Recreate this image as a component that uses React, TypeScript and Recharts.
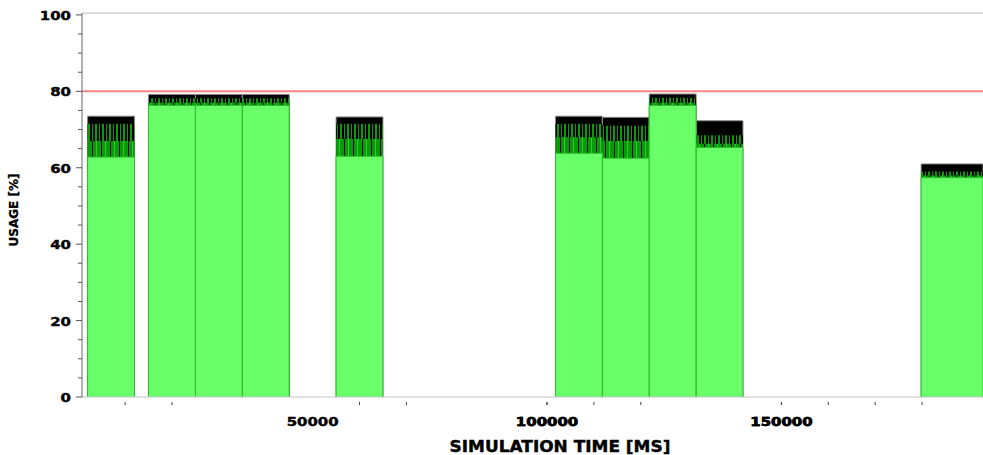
import React from "react";
import {
  ComposedChart,
  Area,
  XAxis,
  YAxis,
  ReferenceLine,
} from "recharts";

// each block is one simulation phase, times in ms
const BLOCK_START = [2000, 15000, 25000, 35000, 55000, 101800, 111800, 121800, 131800, 179800];
const BLOCK_END = [12000, 25000, 35000, 45000, 65000, 111800, 121800, 131800, 141800, 193000];

// usage [%]: peak tips, black band, dark green band, solid fill
const USAGE_PEAK = [73.5, 79.2, 79.2, 79.2, 73.3, 73.5, 73.2, 79.3, 72.3, 61.0];
const USAGE_MIX = [71.5, 78.2, 78.2, 78.2, 71.5, 71.5, 71.0, 78.3, 68.5, 59.0];
const USAGE_DARK = [67.0, 77.0, 77.0, 77.0, 67.5, 68.0, 67.0, 77.0, 66.3, 58.0];
const USAGE_BASE = [62.8, 76.3, 76.3, 76.3, 63.0, 63.8, 62.5, 76.3, 65.3, 57.4];

const LIMIT = 80;

const Y_TICKS = [0, 5, 10, 15, 20, 25, 30, 35, 40, 45, 50, 55, 60, 65, 70, 75, 80, 85, 90, 95, 100];
const Y_LABELS = [0, 20, 40, 60, 80, 100];

const X_TICK_MARKS = [10000, 20000, 60000, 70000, 100000, 110000, 120000, 150000, 160000, 170000, 180000];
const X_TICK_LABELS = [50000, 100000, 150000];

const X_DOMAIN: [number, number] = [800, 193000];
const Y_MAX = 100.5;

type Row = {
  t: number;
  peak: number | null;
  mix: number | null;
  dark: number | null;
  base: number | null;
};

function buildRows(): Row[] {
  const rows: Row[] = [];
  BLOCK_START.forEach((s, i) => {
    const e = BLOCK_END[i];
    const zero = { peak: 0, mix: 0, dark: 0, base: 0 };
    const top = {
      peak: USAGE_PEAK[i],
      mix: USAGE_MIX[i],
      dark: USAGE_DARK[i],
      base: USAGE_BASE[i],
    };
    rows.push({ t: s, ...zero }, { t: s, ...top }, { t: e, ...top }, { t: e, ...zero });
    // break the areas where there is no data
    const next = BLOCK_START[i + 1];
    if (next !== undefined && next > e) {
      rows.push({ t: e, peak: null, mix: null, dark: null, base: null });
    }
  });
  return rows;
}

const FONT = "'DejaVu Sans', sans-serif";

// eslint-disable-next-line @typescript-eslint/no-explicit-any
function YTick({ x, y, payload }: any) {
  const v = payload.value as number;
  const major = Y_LABELS.includes(v);
  return (
    <g>
      <line x1={x - (major ? 6 : 4)} x2={x} y1={y} y2={y} stroke="#555" />
      {major && (
        <text
          transform={`translate(${x - 11},${y + 5}) scale(1.3,1)`}
          textAnchor="end"
          fontFamily={FONT}
          fontWeight="bold"
          fontSize={11.5}
          fill="#000"
          stroke="#000"
          strokeWidth={0.4}
        >
          {v}
        </text>
      )}
    </g>
  );
}

// eslint-disable-next-line @typescript-eslint/no-explicit-any
function XTick({ x, y, payload }: any) {
  const v = payload.value as number;
  return (
    <g>
      {X_TICK_MARKS.includes(v) && (
        <line x1={x} x2={x} y1={y + 5} y2={y + 8} stroke="#444" />
      )}
      {X_TICK_LABELS.includes(v) && (
        <text
          transform={`translate(${x},${y + 29}) scale(1.3,1)`}
          textAnchor="middle"
          fontFamily={FONT}
          fontWeight="bold"
          fontSize={11.5}
          fill="#000"
          stroke="#000"
          strokeWidth={0.4}
        >
          {v}
        </text>
      )}
    </g>
  );
}

export default function App() {
  const data = buildRows();
  const xTicks = [...X_TICK_MARKS, ...X_TICK_LABELS].sort((a, b) => a - b);

  return (
    <div style={{ position: "absolute", left: 0, top: 0, width: 983, height: 455, background: "#fff" }}>
      <ComposedChart
        width={983}
        height={455}
        data={data}
        margin={{ top: 13, right: 0, bottom: 0, left: 0 }}
      >
        <defs>
          <pattern id="mixBand" width="7" height="4" patternUnits="userSpaceOnUse">
            <rect width="7" height="4" fill="#000" />
            <rect x="1" width="1" height="4" fill="#0a9a0a" />
            <rect x="4" width="2" height="4" fill="#0a9a0a" />
          </pattern>
          <pattern id="darkBand" width="9" height="4" patternUnits="userSpaceOnUse">
            <rect width="9" height="4" fill="#079c07" />
            <rect x="2" width="1" height="4" fill="#000" />
            <rect x="6" width="1" height="4" fill="#33c733" />
          </pattern>
        </defs>
        <XAxis
          dataKey="t"
          type="number"
          domain={X_DOMAIN}
          allowDataOverflow
          ticks={xTicks}
          interval={0}
          tick={<XTick />}
          tickLine={false}
          tickSize={0}
          tickMargin={0}
          axisLine={{ stroke: "#c4c4c4" }}
          height={58}
        />
        <YAxis
          type="number"
          domain={[0, Y_MAX]}
          ticks={Y_TICKS}
          interval={0}
          tick={<YTick />}
          tickLine={false}
          tickSize={0}
          tickMargin={0}
          axisLine={{ stroke: "#666" }}
          width={82}
        />
        <ReferenceLine y={Y_MAX} stroke="#dcdcdc" strokeWidth={2} />
        <Area
          type="linear"
          dataKey="peak"
          stroke="#8c8c8c"
          strokeWidth={1}
          fill="#000"
          fillOpacity={1}
          dot={false}
          activeDot={false}
          isAnimationActive={false}
        />
        <Area
          type="linear"
          dataKey="mix"
          stroke="none"
          fill="url(#mixBand)"
          fillOpacity={1}
          dot={false}
          activeDot={false}
          isAnimationActive={false}
        />
        <Area
          type="linear"
          dataKey="dark"
          stroke="none"
          fill="url(#darkBand)"
          fillOpacity={1}
          dot={false}
          activeDot={false}
          isAnimationActive={false}
        />
        <Area
          type="linear"
          dataKey="base"
          stroke="#2fbd2f"
          strokeWidth={1}
          fill="#69ff69"
          fillOpacity={1}
          dot={false}
          activeDot={false}
          isAnimationActive={false}
        />
        <ReferenceLine y={LIMIT} stroke="#f58585" strokeWidth={2} />
      </ComposedChart>
      <svg
        width={983}
        height={455}
        style={{ position: "absolute", left: 0, top: 0, pointerEvents: "none" }}
      >
        <text
          transform="translate(560,452) scale(1.13,1)"
          textAnchor="middle"
          fontFamily={FONT}
          fontWeight="bold"
          fontSize={15}
          fill="#000"
          stroke="#000"
          strokeWidth={0.4}
        >
          SIMULATION TIME [MS]
        </text>
        <text
          transform="translate(18,210) rotate(-90)"
          textAnchor="middle"
          fontFamily={FONT}
          fontWeight="bold"
          fontSize={12}
          fill="#000"
          stroke="#000"
          strokeWidth={0.3}
        >
          USAGE [%]
        </text>
      </svg>
    </div>
  );
}
